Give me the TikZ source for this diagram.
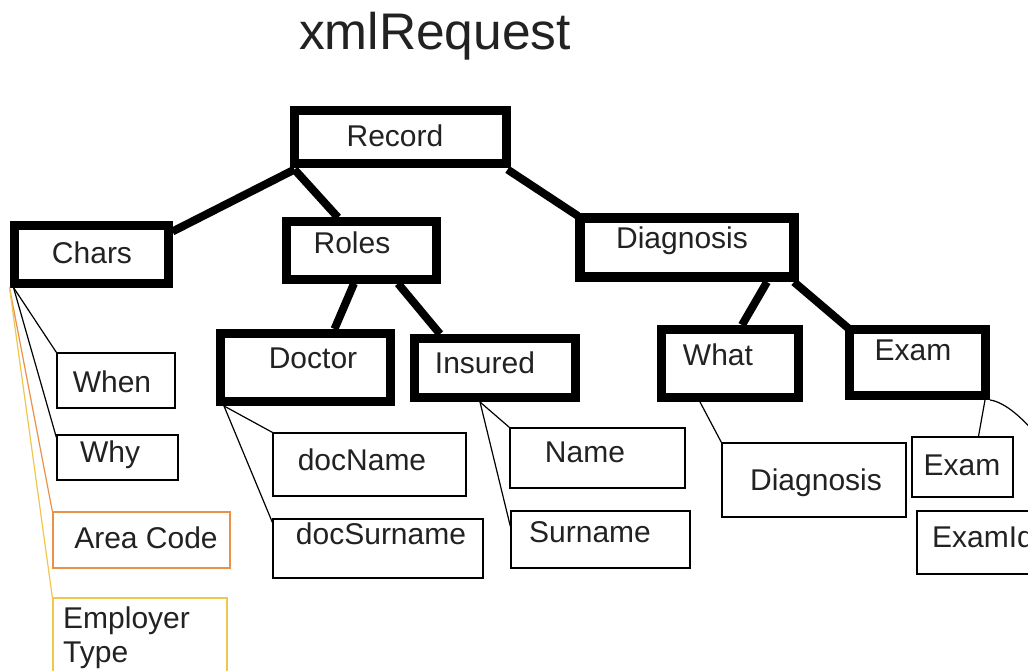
\documentclass[tikz,border=0pt]{standalone}
\usepackage{fontspec}
\setmainfont{Liberation Sans}
\usetikzlibrary{calc}
\definecolor{ink}{HTML}{222222}
\definecolor{areaorange}{HTML}{E8914A}
\definecolor{empyellow}{HTML}{F0C64E}
\tikzset{
  bigbox/.style={draw=black, line width=9pt, rectangle, inner sep=0pt},
  leafbox/.style={draw=black, line width=1.3pt, rectangle, inner sep=0pt},
  lbl/.style={text=ink, font=\fontsize{30}{34}\selectfont, inner sep=0pt, anchor=base},
  thickedge/.style={line width=8pt},
  thinedge/.style={line width=1.2pt},
}
\begin{document}
\begin{tikzpicture}[x=1pt, y=-1pt]
\useasboundingbox (0,0) rectangle (1028,671);
\clip (0,0) rectangle (1028,671);
\fill[white] (0,0) rectangle (1028,671);

% heading
\node[lbl, font=\fontsize{51.5}{58}\selectfont] (title) at (435,50) {xmlRequest};

% element boxes
\node[bigbox, minimum width=212pt, minimum height=53pt] (rec)   at (400,137.5) {};
\node[bigbox, minimum width=154pt, minimum height=57pt] (chars) at (91,254.5) {};
\node[bigbox, minimum width=150pt, minimum height=57pt] (roles) at (361,250.5) {};
\node[bigbox, minimum width=214pt, minimum height=59pt, line width=10pt] (diag) at (687,247.5) {};
\node[bigbox, minimum width=170pt, minimum height=68pt] (doctor)  at (305.5,367.5) {};
\node[bigbox, minimum width=161pt, minimum height=59pt] (insured) at (495,368) {};
\node[bigbox, minimum width=137pt, minimum height=68pt] (what)    at (730,363.5) {};
\node[bigbox, minimum width=136pt, minimum height=66pt] (exam)    at (917.5,362.5) {};

\node[lbl] at (395,147) {Record};
\node[lbl] at (92,263) {Chars};
\node[lbl] at (352,253) {Roles};
\node[lbl] at (682,248) {Diagnosis};
\node[lbl] at (313,368) {Doctor};
\node[lbl] at (485,373) {Insured};
\node[lbl] at (718,365) {What};
\node[lbl] at (913,360) {Exam};

% attribute boxes
\node[leafbox, minimum width=118pt, minimum height=55pt] (when) at (116,380.5) {};
\node[leafbox, minimum width=121pt, minimum height=45pt] (why)  at (117.5,457.5) {};
\node[leafbox, draw=areaorange, minimum width=177pt, minimum height=56pt] (area) at (141.5,540) {};
\node[leafbox, draw=empyellow, minimum width=174pt, minimum height=82pt] (emp) at (140,639) {};
\node[leafbox, minimum width=193pt, minimum height=63pt] (docname) at (369.5,464.5) {};
\node[leafbox, minimum width=210pt, minimum height=59pt] (docsur)  at (378,548.5) {};
\node[leafbox, minimum width=175pt, minimum height=60pt] (name)    at (597.5,458) {};
\node[leafbox, minimum width=179pt, minimum height=57pt] (sur)     at (600.5,539.5) {};
\node[leafbox, minimum width=184pt, minimum height=74pt] (diagtxt) at (814,480) {};
\node[leafbox, minimum width=101pt, minimum height=60pt] (examtxt) at (962.5,467) {};
\node[leafbox, minimum width=153pt, minimum height=63pt] (examid)  at (993.5,542.5) {};

\node[lbl] at (112,392) {When};
\node[lbl] at (110,462) {Why};
\node[lbl] at (146,548) {Area Code};
\node[lbl, anchor=base west] at (63,628) {Employer};
\node[lbl, anchor=base west] at (63,662) {Type};
\node[lbl] at (362,470) {docName};
\node[lbl] at (381,544) {docSurname};
\node[lbl] at (585,462) {Name};
\node[lbl] at (590,542) {Surname};
\node[lbl] at (816,490) {Diagnosis};
\node[lbl] at (962,475) {Exam};
\node[lbl, anchor=base west] at (932,547) {ExamId};

% structural links
\draw[thickedge] ([shift={(5pt,-1pt)}]rec.south west) -- ([yshift=-10pt]chars.north east);
\draw[thickedge] ([shift={(5pt,-1pt)}]rec.south west) -- ([xshift=-23pt]roles.north);
\draw[thickedge] ([shift={(-3pt,-1pt)}]rec.south east) -- ([shift={(3pt,-3pt)}]diag.north west);
\draw[thickedge] ([xshift=-7pt]roles.south) -- ([xshift=29pt]doctor.north);
\draw[thickedge] ([xshift=37pt]roles.south) -- ([xshift=-55pt]insured.north);
\draw[thickedge] ([xshift=80pt]diag.south) -- ([xshift=12pt]what.north);
\draw[thickedge] ([xshift=-5pt]diag.south east) -- ([shift={(3pt,-3pt)}]exam.north west);

% attribute links
\draw[thinedge] ([xshift=4pt]chars.south west) -- (when.north west);
\draw[thinedge] ([xshift=4pt]chars.south west) -- ([yshift=-3pt]why.north west);
\draw[thinedge, areaorange] (chars.south west) -- (area.north west);
\draw[thinedge, empyellow] (chars.south west) -- (emp.north west);
\draw[thinedge] ([xshift=8pt]doctor.south west) -- (docname.north west);
\draw[thinedge] ([xshift=8pt]doctor.south west) -- ([yshift=-4pt]docsur.north west);
\draw[thinedge] ([xshift=-15pt]insured.south) -- (name.north west);
\draw[thinedge] ([xshift=-15pt]insured.south) -- ([yshift=-16pt]sur.north west);
\draw[thinedge] ([xshift=-30pt]what.south) -- (diagtxt.north west);
\draw[thinedge] ([xshift=-5pt]exam.south east) -- ([xshift=16pt]examtxt.north);
\draw[thinedge] (exam.south east) .. controls +(30,4) and +(0,-40) .. (examid.north east);
\end{tikzpicture}
\end{document}
